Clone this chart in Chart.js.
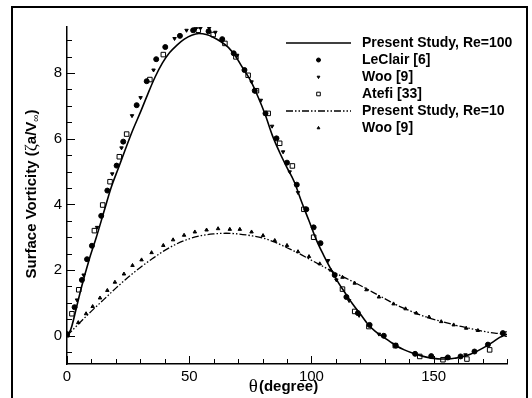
<!DOCTYPE html>
<html>
<head>
<meta charset="utf-8">
<script src="https://cdn.jsdelivr.net/npm/chart.js@4.4.1/dist/chart.umd.min.js"></script>
<style>
html, body { margin: 0; padding: 0; background: #fff; }
</style>
</head>
<body>
<canvas id="chart" width="532" height="398"></canvas>
<script>
const FONT = '"Liberation Sans", Arial, sans-serif';
const SERIF = '"Liberation Serif", "DejaVu Serif", serif';

// Present study, Re=100 (solid line)
const re100Theta = [0, 1, 2, 4, 6, 9, 12, 15, 18, 21, 24, 27, 30, 33, 36, 39, 42, 45, 48, 51, 54, 57, 60, 63, 66, 69, 72, 75, 78, 81, 84, 87, 90, 93, 96, 99, 102, 105, 108, 111, 114, 117, 120, 123, 126, 129, 132, 135, 138, 141, 144, 147, 150, 153, 156, 159, 162, 165, 168, 171, 174, 177, 180];
const re100Vort = [0, 0.1, 0.3, 0.9, 1.5, 2.3, 3.0, 3.75, 4.5, 5.1, 5.7, 6.28, 6.8, 7.35, 7.87, 8.3, 8.62, 8.85, 9.03, 9.15, 9.2, 9.17, 9.08, 8.95, 8.78, 8.5, 8.14, 7.78, 7.3, 6.75, 6.1, 5.58, 5.12, 4.68, 4.07, 3.5, 2.92, 2.45, 2.02, 1.62, 1.28, 0.95, 0.66, 0.36, 0.14, -0.02, -0.17, -0.32, -0.43, -0.52, -0.59, -0.65, -0.69, -0.71, -0.71, -0.68, -0.63, -0.56, -0.46, -0.34, -0.2, -0.05, 0.05];

// Present study, Re=10 (dash-dot-dot line)
const re10Theta = [0, 5, 10, 15, 20, 25, 30, 35, 40, 45, 50, 55, 60, 65, 70, 75, 80, 85, 90, 95, 100, 105, 110, 115, 120, 125, 130, 135, 140, 145, 150, 155, 160, 165, 170, 175, 180];
const re10Vort = [0, 0.38, 0.75, 1.1, 1.45, 1.78, 2.08, 2.35, 2.6, 2.8, 2.95, 3.05, 3.1, 3.12, 3.1, 3.05, 2.98, 2.85, 2.68, 2.5, 2.3, 2.1, 1.9, 1.72, 1.53, 1.33, 1.13, 0.93, 0.77, 0.62, 0.5, 0.4, 0.3, 0.22, 0.14, 0.08, 0.05];

// LeClair [6]
const leclairTheta = [0, 3.1, 6.1, 8.2, 10.2, 14.0, 16.5, 20.3, 23, 28.5, 32.6, 36.5, 40.2, 46.2, 51.6, 57.9, 63.5, 68.2, 72.6, 76.8, 81.2, 85.7, 90, 94, 97.9, 100.9, 103.7, 109.5, 114.3, 119, 123.8, 129.6, 134.5, 142.4, 149, 155.8, 161, 166.7, 172.2, 178.3];
const leclairVort = [0.05, 0.87, 1.7, 2.33, 2.74, 3.65, 4.42, 5.18, 5.91, 7.02, 7.75, 8.42, 8.79, 9.13, 9.3, 9.27, 9.03, 8.6, 8.09, 7.46, 6.77, 6.01, 5.27, 4.6, 3.85, 3.3, 2.82, 1.85, 1.18, 0.69, 0.33, 0.0, -0.3, -0.55, -0.62, -0.66, -0.63, -0.48, -0.27, 0.08];

// Woo [9], Re=100
const woo100Theta = [4.1, 6.8, 12.3, 18.5, 22.3, 26.6, 30.1, 35.4, 44.0, 48.9, 52.7, 54.6, 58.2, 60.7, 69.6, 75.5, 79.3, 83.9, 88.4, 91.1, 94.5, 106.8, 110.2, 115.4, 119.5, 127.6, 155.2, 163];
const woo100Vort = [1.09, 1.85, 3.3, 4.93, 5.72, 6.7, 7.25, 8.09, 9.05, 9.3, 9.35, 9.37, 9.37, 9.24, 8.54, 7.73, 7.17, 6.38, 5.6, 4.99, 4.36, 2.29, 1.7, 1.07, 0.62, 0.05, -0.68, -0.58];

// Atefi [33]
const atefiTheta = [0, 2.0, 4.8, 11.2, 14.6, 17.6, 21.4, 24.4, 33.9, 39.4, 53.7, 59.8, 64.6, 69.1, 74.1, 77.5, 82.3, 87, 92.2, 96.9, 100.9, 112.7, 117.7, 123.5, 134.3, 144.3, 153.8, 163.6, 172.9, 180];
const atefiVort = [0.03, 0.67, 1.4, 3.2, 3.98, 4.69, 5.45, 6.14, 7.8, 8.56, 9.3, 9.17, 8.9, 8.49, 7.93, 7.46, 6.77, 5.86, 5.17, 3.85, 3.0, 1.42, 0.74, 0.28, -0.3, -0.63, -0.73, -0.71, -0.43, 0.05];

// Woo [9], Re=10
const woo10Theta = [0, 4.6, 7.8, 10.5, 13.5, 16.5, 19.6, 23.3, 26.8, 30.5, 34.6, 39.4, 43.4, 47.9, 52.3, 57.1, 61.8, 66.6, 70.7, 75.5, 80.2, 85, 90, 94.5, 99, 103.4, 107.9, 112.7, 117.7, 122.5, 127.6, 133.6, 138.5, 142.9, 148.1, 153.1, 158.2, 163.3, 168.1, 178.3];
const woo10Vort = [0.02, 0.4, 0.67, 0.89, 1.15, 1.38, 1.63, 1.88, 2.14, 2.31, 2.53, 2.75, 2.92, 3.06, 3.16, 3.22, 3.26, 3.24, 3.24, 3.16, 3.05, 2.9, 2.75, 2.56, 2.41, 2.19, 2.0, 1.78, 1.6, 1.4, 1.18, 0.97, 0.82, 0.69, 0.57, 0.43, 0.33, 0.23, 0.16, 0.05];

const legendLabels = ['Present Study, Re=100', 'LeClair [6]', 'Woo [9]', 'Atefi [33]', 'Present Study, Re=10', 'Woo [9]'];
const xTickValues = [0, 50, 100, 150];
const yTickValues = [0, 2, 4, 6, 8];

function toPoints(xs, ys) {
    return xs.map((x, i) => ({ x: x, y: ys[i] }));
}

// frame, inner tick marks, axis titles and legend
const decorations = {
    id: 'decorations',
    afterDraw(chart) {
        const ctx = chart.ctx;
        const xs = chart.scales.x;
        const ys = chart.scales.y;
        const area = chart.chartArea;
        ctx.save();

        // outer frame
        ctx.strokeStyle = '#000';
        ctx.lineWidth = 2;
        ctx.strokeRect(12, 7, 515, 400);

        // ticks pointing into the plot
        ctx.lineWidth = 1;
        ctx.beginPath();
        for (let v = 0; v <= 180; v += 10) {
            const px = Math.round(xs.getPixelForValue(v)) + 0.5;
            const len = v % 50 === 0 ? 8 : 5;
            ctx.moveTo(px, area.bottom);
            ctx.lineTo(px, area.bottom - len);
        }
        for (let v = -0.5; v <= 9; v += 0.5) {
            const py = Math.round(ys.getPixelForValue(v)) + 0.5;
            const len = v % 2 === 0 ? 8 : 5;
            ctx.moveTo(area.left, py);
            ctx.lineTo(area.left + len, py);
        }
        ctx.stroke();

        // x title: θ(degree)
        ctx.fillStyle = '#000';
        ctx.textBaseline = 'alphabetic';
        ctx.textAlign = 'left';
        ctx.font = '19px ' + SERIF;
        const thetaW = ctx.measureText('θ').width;
        ctx.font = 'bold 15px ' + FONT;
        const degW = ctx.measureText('(degree)').width;
        let tx = 283 - (thetaW + degW) / 2;
        ctx.font = '19px ' + SERIF;
        ctx.fillText('θ', tx, 392);
        ctx.font = 'bold 15px ' + FONT;
        ctx.fillText('(degree)', tx + thetaW + 1, 391);

        // y title: Surface Vorticity (ζa/V∞)
        const parts = [
            { t: 'Surface Vorticity (', f: 'bold 15px ' + FONT, dy: 0 },
            { t: 'ζ', f: '17px ' + SERIF, dy: 0 },
            { t: 'a/V', f: 'bold 15px ' + FONT, dy: 0 },
            { t: '∞', f: '10px ' + FONT, dy: 3 },
            { t: ')', f: 'bold 15px ' + FONT, dy: 0 }
        ];
        let total = 0;
        parts.forEach(p => { ctx.font = p.f; p.w = ctx.measureText(p.t).width; total += p.w; });
        ctx.translate(36, 194);
        ctx.rotate(-Math.PI / 2);
        let cx = -total / 2;
        parts.forEach(p => {
            ctx.font = p.f;
            ctx.fillText(p.t, cx, p.dy);
            cx += p.w;
        });
        ctx.setTransform(1, 0, 0, 1, 0, 0);

        // legend
        const lineX0 = 286, lineX1 = 351, textX = 362, rowY0 = 43, rowH = 17;
        chart.data.datasets.forEach((ds, i) => {
            const y = rowY0 + i * rowH;
            ctx.strokeStyle = '#000';
            ctx.fillStyle = ds.pointBackgroundColor || '#000';
            if (ds.showLine) {
                ctx.lineWidth = ds.borderWidth;
                ctx.setLineDash(ds.borderDash || []);
                ctx.beginPath();
                ctx.moveTo(lineX0, y);
                ctx.lineTo(lineX1, y);
                ctx.stroke();
                ctx.setLineDash([]);
            } else {
                ctx.lineWidth = 1;
                Chart.helpers.drawPoint(ctx, {
                    pointStyle: ds.pointStyle,
                    radius: ds.pointRadius * 0.8,
                    rotation: ds.pointRotation || 0,
                    borderWidth: ds.pointBorderWidth
                }, (lineX0 + lineX1) / 2, y);
            }
            ctx.fillStyle = '#000';
            ctx.font = 'bold 14px ' + FONT;
            ctx.textBaseline = 'middle';
            ctx.fillText(legendLabels[i], textX, y);
        });
        ctx.restore();
    }
};

new Chart(document.getElementById('chart'), {
    type: 'scatter',
    data: {
        datasets: [
            {
                label: legendLabels[0],
                data: toPoints(re100Theta, re100Vort),
                showLine: true,
                borderColor: '#000',
                borderWidth: 1.6,
                pointRadius: 0,
                cubicInterpolationMode: 'monotone'
            },
            {
                label: legendLabels[1],
                data: toPoints(leclairTheta, leclairVort),
                showLine: false,
                pointStyle: 'circle',
                pointRadius: 2.5,
                pointBackgroundColor: '#000',
                pointBorderColor: '#000',
                pointBorderWidth: 1
            },
            {
                label: legendLabels[2],
                data: toPoints(woo100Theta, woo100Vort),
                showLine: false,
                pointStyle: 'triangle',
                pointRotation: 180,
                pointRadius: 2,
                pointBackgroundColor: '#000',
                pointBorderColor: '#000',
                pointBorderWidth: 1
            },
            {
                label: legendLabels[3],
                data: toPoints(atefiTheta, atefiVort),
                showLine: false,
                pointStyle: 'rect',
                pointRadius: 3.2,
                pointBackgroundColor: '#fff',
                pointBorderColor: '#000',
                pointBorderWidth: 1
            },
            {
                label: legendLabels[4],
                data: toPoints(re10Theta, re10Vort),
                showLine: true,
                borderColor: '#000',
                borderWidth: 1.3,
                borderDash: [7, 2, 1.5, 2, 1.5, 2],
                pointRadius: 0,
                cubicInterpolationMode: 'monotone'
            },
            {
                label: legendLabels[5],
                data: toPoints(woo10Theta, woo10Vort),
                showLine: false,
                pointStyle: 'triangle',
                pointRadius: 2,
                pointBackgroundColor: '#000',
                pointBorderColor: '#000',
                pointBorderWidth: 1
            }
        ]
    },
    options: {
        responsive: false,
        animation: false,
        layout: { padding: { left: 0, right: 25, top: 27, bottom: 0 } },
        plugins: {
            legend: { display: false },
            tooltip: { enabled: false }
        },
        scales: {
            x: {
                type: 'linear',
                min: 0,
                max: 180,
                grid: { display: false, drawTicks: false },
                border: { display: true, color: '#000', width: 1.5 },
                afterBuildTicks: scale => { scale.ticks = xTickValues.map(v => ({ value: v })); },
                afterFit: scale => { scale.height = 34; },
                ticks: { color: '#000', padding: 4, font: { family: FONT, size: 15 } }
            },
            y: {
                type: 'linear',
                min: -0.86,
                max: 9.4,
                grid: { display: false, drawTicks: false },
                border: { display: true, color: '#000', width: 1.5 },
                afterBuildTicks: scale => { scale.ticks = yTickValues.map(v => ({ value: v })); },
                afterFit: scale => { scale.width = 67; },
                ticks: { color: '#000', padding: 5, font: { family: FONT, size: 15 } }
            }
        }
    },
    plugins: [decorations]
});
</script>
</body>
</html>
